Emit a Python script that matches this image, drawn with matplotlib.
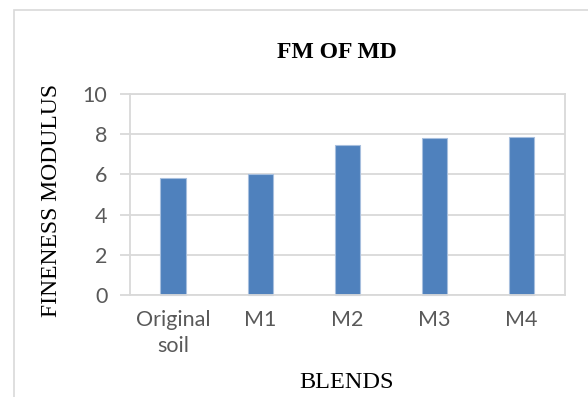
import matplotlib
matplotlib.use("Agg")
import matplotlib.pyplot as plt
from matplotlib.patches import Rectangle

categories = ["Original\nsoil", "M1", "M2", "M3", "M4"]
values = [5.80, 6.02, 7.47, 7.82, 7.86]
yticks = [0, 2, 4, 6, 8, 10]

W, H = 588, 397
fig = plt.figure(figsize=(W / 100, H / 100), dpi=100)
fig.patch.set_facecolor("white")

# outer chart frame
fig.patches.append(Rectangle((14 / W, -0.1), 2, 1.1 - 10 / H, transform=fig.transFigure,
                             fill=False, edgecolor="#D9D9D9", linewidth=1.2))

left, right, top, bottom = 129.5, 565, 94, 295
ax = fig.add_axes([left / W, 1 - bottom / H, (right - left) / W, (bottom - top) / H])

grid_c = "#D9D9D9"
x = range(len(categories))
ax.bar(x, values, width=0.29, color="#4F81BD", edgecolor="#A7BFDE", linewidth=0.8,
       clip_on=False, zorder=2)
ax.set_xlim(-0.5, len(categories) - 0.5)
ax.set_ylim(0, 10)
ax.set_yticks(yticks)
ax.yaxis.grid(True, color=grid_c, linewidth=1.3, zorder=0)
ax.set_axisbelow(True)
for s in ax.spines.values():
    s.set_color(grid_c)
    s.set_linewidth(1.3)
ax.spines["bottom"].set_zorder(3)
ax.tick_params(axis="y", length=7, width=1.3, color=grid_c, pad=9,
               labelsize=15.5, labelcolor="#595959")
ax.tick_params(axis="x", length=0, pad=11, labelsize=15.5, labelcolor="#595959")
ax.set_xticks(list(x))
ax.set_xticklabels(categories, fontfamily="Lato", linespacing=1.35)
for lab in ax.get_yticklabels():
    lab.set_fontfamily("Lato")

fig.text(337 / W, 1 - 53 / H, "FM OF MD", ha="center", va="center",
         fontfamily="Liberation Serif", fontweight="bold", fontsize=17)
fig.text(347 / W, 1 - 382 / H, "BLENDS", ha="center", va="center",
         fontfamily="Liberation Serif", fontsize=17.5)
fig.text(52 / W, 1 - 200 / H, "FINENESS MODULUS", ha="center", va="center",
         rotation=90, fontfamily="Liberation Serif", fontsize=17)

fig.savefig("out.png", dpi=100)
